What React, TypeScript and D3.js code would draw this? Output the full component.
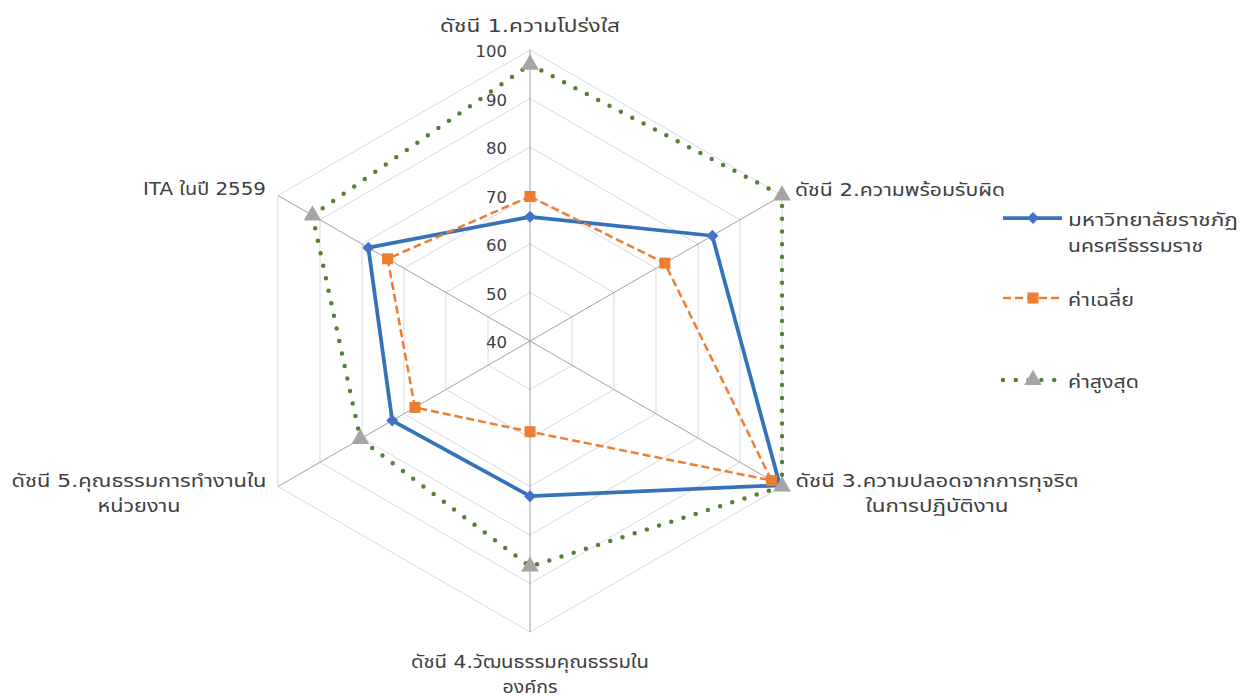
import React from "react";
import * as d3 from "d3";

const axes = [
  ["ดัชนี 1.ความโปร่งใส"],
  ["ดัชนี 2.ความพร้อมรับผิด"],
  ["ดัชนี 3.ความปลอดจากการทุจริต", "ในการปฏิบัติงาน"],
  ["ดัชนี 4.วัฒนธรรมคุณธรรมใน", "องค์กร"],
  ["ดัชนี 5.คุณธรรมการทำงานใน", "หน่วยงาน"],
  ["ITA ในปี 2559"],
];

const university = [65.6, 83.4, 99.5, 72.0, 72.8, 78.5];
const average = [69.8, 72.1, 97.5, 58.7, 67.4, 73.9];
const maximum = [97.0, 100, 100, 86.5, 80.4, 91.8];

const ticks = [40, 50, 60, 70, 80, 90, 100];

const seriesNames = [["มหาวิทยาลัยราชภัฏ", "นครศรีธรรมราช"], ["ค่าเฉลี่ย"], ["ค่าสูงสุด"]];

const W = 1247;
const H = 696;
const cx = 530;
const cy = 341;
const R = 291;
const font = "'DejaVu Sans', 'Noto Sans Thai', 'Noto Sans', sans-serif";

// label placement: anchor point and the width each line takes in the picture
const labelPos = [
  { x: cx, y: 32, anchor: "middle", w: [180] },
  { x: 795, y: 196, anchor: "start", w: [210] },
  { x: 937, y: 487, anchor: "middle", w: [283, 143] },
  { x: cx, y: 668, anchor: "middle", w: [238, 55] },
  { x: 139, y: 487, anchor: "middle", w: [255, 83] },
  { x: 266, y: 195, anchor: "end", w: [123] },
];

const legendY = [218, 298, 380];
const legendW = [[170, 135], [66], [71]];

const App = () => {
  const r = d3.scaleLinear().domain([40, 100]).range([0, R]);
  const angle = (i: number) => (i * 2 * Math.PI) / axes.length;
  const pt = (i: number, v: number): [number, number] => [
    r(v) * Math.sin(angle(i)),
    -r(v) * Math.cos(angle(i)),
  ];

  const radial = d3
    .lineRadial<number>()
    .angle((_, i) => angle(i))
    .radius((d) => r(d))
    .curve(d3.curveLinearClosed);

  const series = [
    {
      data: university,
      stroke: "#3473BA",
      width: 3.75,
      dash: undefined as string | undefined,
      cap: "butt",
      marker: d3.symbol().type(d3.symbolSquare).size(72)(),
      rot: 45,
      fill: "#4472C4",
    },
    {
      data: average,
      stroke: "#ED7D31",
      width: 2.5,
      dash: "8 4",
      cap: "butt",
      marker: d3.symbol().type(d3.symbolSquare).size(121)(),
      rot: 0,
      fill: "#ED7D31",
    },
    {
      data: maximum,
      stroke: "#548235",
      width: 4.5,
      dash: "0 12.8",
      cap: "round",
      marker: d3.symbol().type(d3.symbolTriangle).size(135)(),
      rot: 0,
      fill: "#A5A5A5",
    },
  ];

  return (
    <svg width={W} height={H} style={{ display: "block", position: "absolute", left: 0, top: 0 }}>
      <rect width={W} height={H} fill="#fff" />
      <g transform={`translate(${cx},${cy})`}>
        {ticks.slice(1).map((t) => (
          <path
            key={t}
            d={radial(axes.map(() => t)) || ""}
            fill="none"
            stroke="#d6d8e4"
            strokeWidth={1}
          />
        ))}
        {axes.map((_, i) => {
          const [x, y] = pt(i, 100);
          return <line key={i} x1={0} y1={0} x2={x} y2={y} stroke="#a0a0a0" strokeWidth={1} />;
        })}
        {ticks.map((t) => (
          <text
            key={t}
            x={-23}
            y={-r(t) + 7}
            textAnchor="end"
            fontFamily="'DejaVu Sans', sans-serif"
            fontSize={16.5}
            fill="#404040"
          >
            {t}
          </text>
        ))}
        {series.map((s, k) => (
          <g key={k}>
            <path
              d={radial(s.data) || ""}
              fill="none"
              stroke={s.stroke}
              strokeWidth={s.width}
              strokeDasharray={s.dash}
              strokeLinecap={s.cap as any}
              strokeLinejoin="round"
            />
            {s.data.map((v, i) => {
              const [x, y] = pt(i, v);
              return (
                <path
                  key={i}
                  d={s.marker || ""}
                  transform={`translate(${x},${y}) rotate(${s.rot})`}
                  fill={s.fill}
                />
              );
            })}
          </g>
        ))}
      </g>
      {labelPos.map((p, i) => (
        <text
          key={i}
          x={p.x}
          y={p.y}
          textAnchor={p.anchor as any}
          fontFamily={font}
          fontSize={18}
          fill="#404040"
        >
          {axes[i].map((line, j) => (
            <tspan
              key={j}
              x={p.x}
              dy={j === 0 ? 0 : 25}
              textLength={p.w[j]}
              lengthAdjust="spacingAndGlyphs"
            >
              {line}
            </tspan>
          ))}
        </text>
      ))}
      {series.map((s, k) => (
        <g key={k} transform={`translate(0,${legendY[k]})`}>
          <line
            x1={1003}
            x2={1062}
            y1={0}
            y2={0}
            stroke={s.stroke}
            strokeWidth={s.width}
            strokeDasharray={s.dash}
            strokeLinecap={s.cap as any}
          />
          <path d={s.marker || ""} transform={`translate(1033,0) rotate(${s.rot})`} fill={s.fill} />
          <text x={1068} y={8} fontFamily={font} fontSize={18} fill="#404040">
            {seriesNames[k].map((line, j) => (
              <tspan
                key={j}
                x={1068}
                dy={j === 0 ? 0 : 26}
                textLength={legendW[k][j]}
                lengthAdjust="spacingAndGlyphs"
              >
                {line}
              </tspan>
            ))}
          </text>
        </g>
      ))}
    </svg>
  );
};

export default App;
